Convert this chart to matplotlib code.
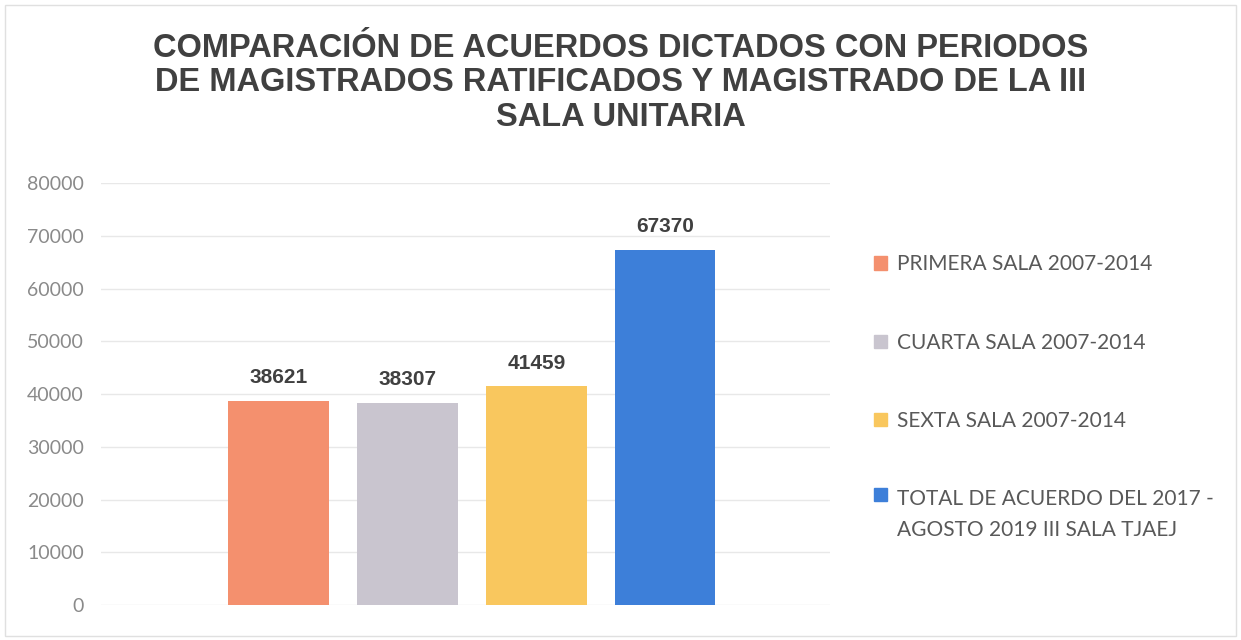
import matplotlib.pyplot as plt
import numpy as np
from matplotlib.patches import Rectangle
from matplotlib.legend_handler import HandlerPatch

# datos
series = ['PRIMERA SALA 2007-2014',
          'CUARTA SALA 2007-2014',
          'SEXTA SALA 2007-2014',
          'TOTAL DE ACUERDO DEL 2017 -\nAGOSTO 2019 III SALA TJAEJ']
acuerdos = [38621, 38307, 41459, 67370]
colores = ['#f4906e', '#c9c5cf', '#f9c75e', '#3d7fd9']
y_ticks = [0, 10000, 20000, 30000, 40000, 50000, 60000, 70000, 80000]

titulo = ('COMPARACIÓN DE ACUERDOS DICTADOS CON PERIODOS\n'
          'DE MAGISTRADOS RATIFICADOS Y MAGISTRADO DE LA III\n'
          'SALA UNITARIA')

fig = plt.figure(figsize=(12.41, 6.4), dpi=100)
ax = fig.add_axes([0.081, 0.0547, 0.588, 0.659])

x = np.arange(len(acuerdos))
barras = ax.bar(x, acuerdos, width=0.78, color=colores, zorder=2)
for b, v in zip(barras, acuerdos):
    ax.annotate(str(v), (b.get_x() + b.get_width() / 2, v), xytext=(0, 10),
                textcoords='offset points', ha='center', va='bottom',
                fontsize=15, fontweight='bold', color='#404040',
                family='Liberation Sans')

ax.set_xlim(-1.38, 4.28)
ax.set_ylim(0, 80000)
ax.set_yticks(y_ticks)
ax.set_yticklabels([str(t) for t in y_ticks], family='Lato', fontsize=14, color='#8a8a8a')
ax.set_xticks([])
ax.tick_params(axis='y', length=0, pad=12)
ax.grid(axis='y', color='#e8e8e8', linewidth=1, zorder=0)
for s in ax.spines.values():
    s.set_visible(False)

fig.text(0.5, 0.948, titulo, ha='center', va='top', fontsize=23.5,
         fontweight='bold', color='#404040', family='Liberation Sans',
         linespacing=1.13)


# el cuadrito de la entrada de dos lineas va con la primera linea
def cuadro_arriba(legend, orig_handle, xdescent, ydescent, width, height, fontsize):
    return Rectangle((-xdescent, -ydescent + 15), width, height)


handles = [Rectangle((0, 0), 1, 1, color=c) for c in colores]
leg = fig.legend(handles, series, loc='upper left', bbox_to_anchor=(0.6895, 0.632),
                 frameon=False, prop={'family': 'Lato', 'size': 15},
                 labelcolor='#595959', handlelength=0.6, handleheight=0.6,
                 handletextpad=0.48, labelspacing=2.8,
                 handler_map={handles[3]: HandlerPatch(patch_func=cuadro_arriba)})
for t in leg.get_texts():
    t.set_linespacing(1.65)

fig.patches.append(Rectangle((0.004, 0.006), 0.992, 0.986, transform=fig.transFigure,
                             fill=False, edgecolor='#e0e0e0', linewidth=1))

fig.savefig('out.png', dpi=100)
